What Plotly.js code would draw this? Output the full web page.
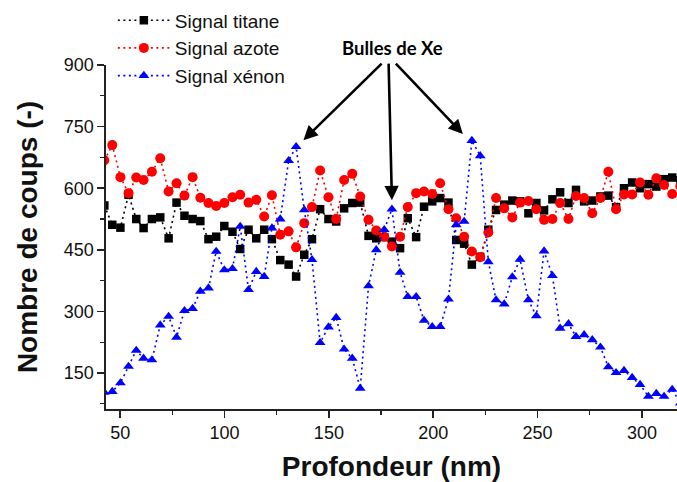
<!DOCTYPE html>
<html>
<head>
<meta charset="utf-8">
<script src="https://cdn.plot.ly/plotly-3.0.1.min.js"></script>
<style>html,body{margin:0;padding:0;background:#fff;}#chart{width:677px;height:482px;}</style>
</head>
<body>
<div id="chart"></div>
<script>
const depth = [42.4, 46.2, 50.1, 54.0, 57.7, 61.2, 65.2, 69.2, 73.2, 77.0, 80.8, 84.7, 88.4, 92.3, 96.0, 99.9, 103.8, 107.5, 111.5, 115.2, 119.0, 122.7, 126.7, 130.7, 134.3, 138.2, 141.9, 145.8, 149.8, 153.5, 157.3, 161.2, 165.0, 169.0, 172.7, 176.5, 180.2, 184.1, 187.8, 191.8, 195.6, 199.5, 203.3, 207.3, 211.0, 214.8, 218.5, 222.5, 226.4, 230.1, 234.0, 237.9, 241.6, 245.6, 249.4, 253.1, 257.1, 260.8, 264.8, 268.4, 272.3, 276.2, 280.1, 283.9, 287.6, 291.4, 295.3, 299.1, 303.1, 306.9, 310.6, 314.5, 318.4];

const titane = [558, 511, 504, 584, 525, 503, 525, 529, 478, 565, 533, 525, 520, 476, 482, 508, 494, 452, 499, 478, 499, 476, 425, 414, 385, 438, 476, 549, 525, 519, 551, 564, 565, 484, 478, 481, 470, 454, 527, 481, 555, 568, 576, 565, 474, 465, 414, 433, 499, 547, 560, 570, 568, 539, 564, 546, 573, 590, 564, 596, 568, 570, 580, 582, 554, 600, 614, 600, 610, 604, 622, 626, 620];

const azote = [668, 705, 627, 588, 626, 620, 640, 673, 592, 612, 582, 627, 577, 564, 557, 564, 578, 584, 565, 572, 531, 583, 487, 495, 456, 515, 554, 643, 578, 525, 620, 635, 580, 523, 497, 482, 458, 482, 554, 588, 592, 586, 612, 549, 527, 482, 446, 432, 492, 576, 551, 529, 565, 569, 549, 523, 525, 564, 525, 581, 576, 539, 576, 640, 549, 585, 585, 614, 584, 624, 608, 586, 605];

const xenon = [103, 105, 126, 166, 205, 186, 182, 267, 288, 237, 302, 307, 349, 357, 446, 401, 404, 507, 353, 397, 385, 503, 525, 667, 701, 547, 426, 224, 262, 285, 208, 186, 113, 362, 450, 499, 549, 395, 336, 336, 278, 263, 263, 330, 511, 519, 716, 679, 421, 328, 318, 384, 427, 328, 289, 447, 387, 259, 270, 239, 243, 231, 213, 165, 151, 156, 139, 122, 93, 100, 93, 110, 77];

const seriesNames = ["Signal titane", "Signal azote", "Signal xénon"];
const xTicks = [50, 100, 150, 200, 250, 300];
const yTicks = [150, 300, 450, 600, 750, 900];
const annotText = "Bulles de Xe";
// arrow targets (bubble peaks) and arrow origins
const arrowTips = [[137.8, 717], [180.2, 571], [214.2, 732]];
const arrowTails = [[176.0, 907], [178.6, 907], [181.4, 907]];

const dotted = "2px,3.5px";
const traces = [
  {x: depth, y: titane, name: seriesNames[0], legendgroup: "a", type: "scatter", mode: "lines+markers",
   line: {color: "#000000", width: 1.6, dash: dotted},
   marker: {symbol: "square", size: 8.5, color: "#000000"}},
  {x: depth, y: azote, name: seriesNames[1], legendgroup: "b", type: "scatter", mode: "lines+markers",
   line: {color: "#ff0000", width: 1.6, dash: dotted},
   marker: {symbol: "circle", size: 10, color: "#ff0000"}},
  {x: depth, y: xenon, name: seriesNames[2], legendgroup: "c", type: "scatter", mode: "lines+markers",
   line: {color: "#0000ff", width: 1.6, dash: dotted},
   marker: {symbol: "triangle-up", size: 9.5, color: "#0000ff"}}
];

const annotations = arrowTips.map((t, i) => ({
  x: t[0], y: t[1], xref: "x", yref: "y",
  ax: arrowTails[i][0], ay: arrowTails[i][1], axref: "x", ayref: "y",
  text: "", showarrow: true, arrowhead: 2, arrowsize: 1.1, arrowwidth: 2.6,
  arrowcolor: "#000000", standoff: 0, startstandoff: 0
}));
annotations.push({
  x: 0.502, y: 1.05, xref: "paper", yref: "paper", text: "<b>" + annotText + "</b>", showarrow: false,
  font: {family: "Lato, 'Open Sans', sans-serif", size: 18.5, color: "#000"},
  xanchor: "center", yanchor: "middle"
});

const axisFont = {family: "Arial, 'Liberation Sans', sans-serif", size: 18, color: "#111"};
const layout = {
  width: 677, height: 482,
  margin: {l: 106, r: 0, t: 65, b: 73, pad: 0},
  paper_bgcolor: "#ffffff", plot_bgcolor: "#ffffff",
  showlegend: true,
  legend: {x: 0.012, y: 1.185, xanchor: "left", yanchor: "top", bgcolor: "rgba(0,0,0,0)",
    font: {family: "Arial, 'Liberation Sans', sans-serif", size: 19, color: "#111"},
    itemwidth: 52, tracegroupgap: 0, traceorder: "normal"},
  xaxis: {range: [43.2, 316.8], tickvals: xTicks, ticks: "outside", ticklen: 7, tickwidth: 1.5, tickcolor: "#222",
    minor: {dtick: 25, tick0: 25, ticks: "outside", ticklen: 4, tickwidth: 1.2, tickcolor: "#222"},
    showline: true, linecolor: "#222", linewidth: 1.6, showgrid: false, zeroline: false,
    tickfont: axisFont,
    title: {text: "Profondeur (nm)", standoff: 14, font: {family: "Arial, 'Liberation Sans', sans-serif", size: 28, weight: "bold", color: "#111"}}},
  yaxis: {range: [62.5, 900], tickvals: yTicks, ticks: "outside", ticklen: 7, tickwidth: 1.5, tickcolor: "#222",
    minor: {dtick: 75, tick0: 75, ticks: "outside", ticklen: 4, tickwidth: 1.2, tickcolor: "#222"},
    showline: true, linecolor: "#222", linewidth: 1.6, showgrid: false, zeroline: false,
    tickfont: axisFont,
    title: {text: "Nombre de coups (-)", standoff: 18, font: {family: "Arial, 'Liberation Sans', sans-serif", size: 28, weight: "bold", color: "#111"}}},
  annotations: annotations
};

Plotly.newPlot("chart", traces, layout, {displayModeBar: false, staticPlot: true});
</script>
</body>
</html>
